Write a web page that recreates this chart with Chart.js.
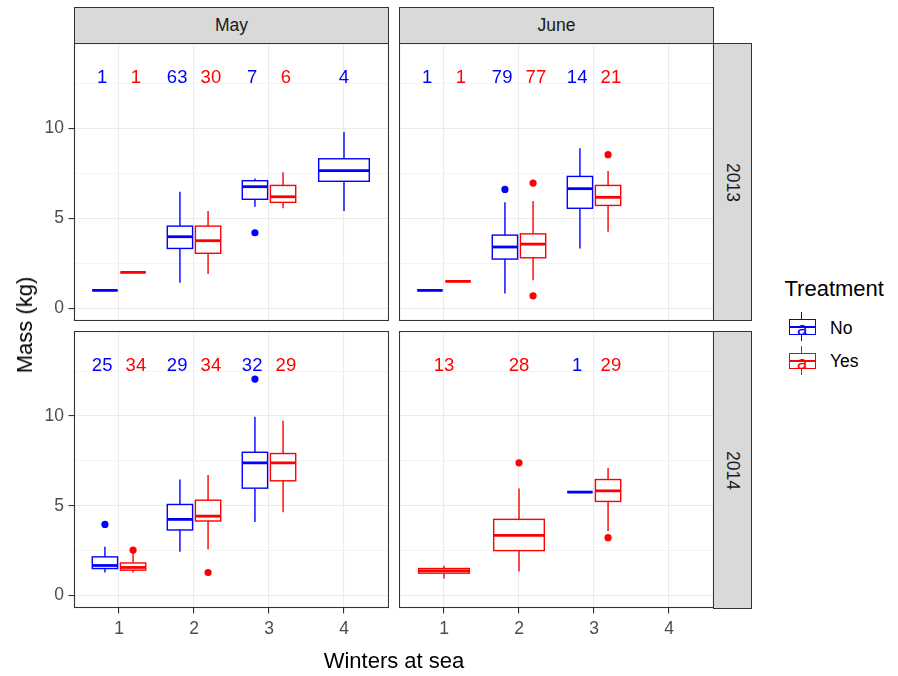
<!DOCTYPE html>
<html>
<head>
<meta charset="utf-8">
<script src="https://cdn.jsdelivr.net/npm/chart.js@4.4.0/dist/chart.umd.min.js"></script>
<style>
body{margin:0;background:#fff;font-family:"Liberation Sans",Arial,sans-serif}
#wrap{position:relative;width:898px;height:676px;overflow:hidden}
canvas{position:absolute}
.strip{position:absolute;background:#d9d9d9;border:1px solid #333;box-sizing:border-box;color:#1a1a1a;font-size:17.5px;display:flex;align-items:center;justify-content:center}
.vert{writing-mode:vertical-rl}
.txt{position:absolute;white-space:nowrap;line-height:1}
.key{position:absolute;width:27px;height:29px}
.key .wh{position:absolute;left:12.3px;width:1.4px;top:0;height:29px}
.key .bx{position:absolute;left:0;top:7px;width:27px;height:16px;border:1.4px solid;box-sizing:border-box;background:#fff}
.key .md{position:absolute;left:0;width:27px;top:14px;height:2.6px}
.key .a{position:absolute;left:8.5px;top:8px;font-size:18.5px;line-height:1}
</style>
</head>
<body>
<div id="wrap">
  <div class="strip" style="left:74px;top:7px;width:315px;height:37px">May</div>
  <div class="strip" style="left:399px;top:7px;width:315px;height:37px">June</div>
  <div class="strip vert" style="left:713px;top:43px;width:39px;height:278px">2013</div>
  <div class="strip vert" style="left:713px;top:331px;width:39px;height:278px">2014</div>

  <canvas id="p1" width="389" height="278" style="left:0;top:43px"></canvas>
  <canvas id="p2" width="315" height="278" style="left:399px;top:43px"></canvas>
  <canvas id="p3" width="389" height="320" style="left:0;top:331px"></canvas>
  <canvas id="p4" width="315" height="320" style="left:399px;top:331px"></canvas>

  <div class="txt" style="left:394px;top:650px;font-size:22px;transform:translateX(-50%)">Winters at sea</div>
  <div class="txt" style="left:25px;top:325px;font-size:22px;transform:translate(-50%,-50%) rotate(-90deg)">Mass (kg)</div>

  <div class="txt" style="left:784.5px;top:278px;font-size:22px">Treatment</div>
  <div class="key" style="left:788.5px;top:311.5px">
    <div class="wh" style="background:#0000ff"></div>
    <div class="bx" style="border-color:#0000ff"></div>
    <div class="md" style="background:#0000ff"></div>
    <div class="a" style="color:#0000ff">a</div>
  </div>
  <div class="txt" style="left:830px;top:319.5px;font-size:17.5px">No</div>
  <div class="key" style="left:788.5px;top:345.5px">
    <div class="wh" style="background:#ff0000"></div>
    <div class="bx" style="border-color:#ff0000"></div>
    <div class="md" style="background:#ff0000"></div>
    <div class="a" style="color:#ff0000">a</div>
  </div>
  <div class="txt" style="left:830px;top:352.5px;font-size:17.5px">Yes</div>
</div>

<script>
Chart.defaults.font.family = '"Liberation Sans", Arial, sans-serif'

const winters = [1, 2, 3, 4]
const xTickLabels = ['1', '2', '3', '4']
const yMajor = [0, 5, 10]
const yMinor = [2.5, 7.5, 12.5]
const yTickLabels = ['0', '5', '10']
const treatments = ['No', 'Yes']
const colours = ['#0000ff', '#ff0000']

// box stats per winter: [whisker low, q1, median, q3, whisker high], null = no fish
const may13No = [[1, 1, 1, 1, 1], [1.42, 3.33, 3.98, 4.57, 6.48], [5.65, 6.06, 6.76, 7.09, 7.22], [5.41, 7.06, 7.65, 8.31, 9.8]]
const may13Yes = [[2, 2, 2, 2, 2], [1.91, 3.06, 3.76, 4.57, 5.41], [5.56, 5.89, 6.2, 6.83, 7.56], null]
const may13NoOut = [[], [], [4.2], []]
const may13YesOut = [[], [], [], []]
const may13NoN = [1, 63, 7, 4]
const may13YesN = [1, 30, 6, null]

const jun13No = [[1, 1, 1, 1, 1], [0.83, 2.74, 3.41, 4.07, 5.89], [3.33, 5.56, 6.65, 7.33, 8.89], null]
const jun13Yes = [[1.5, 1.5, 1.5, 1.5, 1.5], [1.57, 2.81, 3.57, 4.14, 5.96], [4.26, 5.72, 6.17, 6.83, 7.63], null]
const jun13NoOut = [[], [6.61], [], []]
const jun13YesOut = [[], [6.96, 0.7], [8.54], []]
const jun13NoN = [1, 79, 14, null]
const jun13YesN = [1, 77, 21, null]

const may14No = [[1.28, 1.5, 1.67, 2.15, 2.72], [2.43, 3.65, 4.24, 5.07, 6.46], [4.09, 5.98, 7.39, 7.98, 9.96], null]
const may14Yes = [[1.28, 1.41, 1.56, 1.81, 2.35], [2.57, 4.15, 4.42, 5.31, 6.72], [4.64, 6.39, 7.39, 7.91, 9.74], null]
const may14NoOut = [[3.96], [], [12.06], []]
const may14YesOut = [[2.53], [1.28], [], []]
const may14NoN = [25, 29, 32, null]
const may14YesN = [34, 34, 29, null]

const jun14No = [null, null, [5.76, 5.76, 5.76, 5.76, 5.76], null]
const jun14Yes = [[0.94, 1.24, 1.37, 1.5, 1.65], [1.33, 2.5, 3.35, 4.24, 5.96], [3.59, 5.24, 5.83, 6.46, 7.11], null]
const jun14NoOut = [[], [], [], []]
const jun14YesOut = [[], [7.39], [3.22], []]
const jun14NoN = [null, null, 1, null]
const jun14YesN = [13, 28, 29, null]

const countY = 12.5

// dodge offset: two groups share the slot, a lone group takes it all
function centre(pair, g, i, off) {
    const both = pair[0][i] != null && pair[1][i] != null
    return winters[i] + (both ? (g ? off : -off) : 0)
}

function drawBox(ctx, x, y, cx, w, s, colour) {
    const l = x.getPixelForValue(cx - w / 2)
    const r = x.getPixelForValue(cx + w / 2)
    const c = x.getPixelForValue(cx)
    const [lo, q1, md, q3, hi] = s.map(v => y.getPixelForValue(v))
    ctx.strokeStyle = colour
    ctx.lineWidth = 1.4
    ctx.beginPath()
    ctx.moveTo(c, q3); ctx.lineTo(c, hi)
    ctx.moveTo(c, q1); ctx.lineTo(c, lo)
    ctx.stroke()
    ctx.fillStyle = '#ffffff'
    ctx.fillRect(l, q3, r - l, q1 - q3)
    ctx.strokeRect(l, q3, r - l, q1 - q3)
    ctx.lineWidth = 2.8
    ctx.beginPath()
    ctx.moveTo(l, md); ctx.lineTo(r, md)
    ctx.stroke()
}

function makePanel(id, boxes, outliers, counts, showX, showY) {
    const ctx = document.getElementById(id).getContext('2d')

    const datasets = treatments.map((t, g) => ({
        label: t,
        data: outliers[g].flatMap((vals, i) => vals.map(v => ({ x: centre(boxes, g, i, 0.1875), y: v }))),
        backgroundColor: colours[g],
        borderWidth: 0,
        pointRadius: 3.6,
        pointHoverRadius: 3.6
    }))

    const boxPlugin = {
        id: 'boxes',
        beforeDatasetsDraw(chart) {
            const { ctx, scales: { x, y } } = chart
            ctx.save()
            boxes.forEach((set, g) => {
                set.forEach((s, i) => {
                    if (!s) return
                    const both = boxes[0][i] != null && boxes[1][i] != null
                    drawBox(ctx, x, y, centre(boxes, g, i, 0.1875), both ? 0.3375 : 0.675, s, colours[g])
                })
            })
            ctx.restore()
        },
        afterDraw(chart) {
            const { ctx, chartArea: a, scales: { x, y } } = chart
            ctx.save()
            ctx.font = '18.5px "Liberation Sans", Arial, sans-serif'
            ctx.textAlign = 'center'
            ctx.textBaseline = 'alphabetic'
            counts.forEach((set, g) => {
                set.forEach((n, i) => {
                    if (n == null) return
                    ctx.fillStyle = colours[g]
                    ctx.fillText(String(n), x.getPixelForValue(centre(counts, g, i, 0.225)), y.getPixelForValue(countY))
                })
            })
            ctx.strokeStyle = '#333333'
            ctx.lineWidth = 1.1
            ctx.strokeRect(a.left + 0.5, a.top + 0.5, a.right - a.left - 1, a.bottom - a.top - 1)
            ctx.restore()
        }
    }

    return new Chart(ctx, {
        type: 'scatter',
        data: { datasets },
        options: {
            responsive: false,
            animation: false,
            devicePixelRatio: 1,
            events: [],
            layout: { padding: 0, autoPadding: false },
            plugins: { legend: { display: false }, tooltip: { enabled: false } },
            scales: {
                x: {
                    type: 'linear',
                    min: 0.4,
                    max: 4.6,
                    afterBuildTicks: s => { s.ticks = winters.map(v => ({ value: v })) },
                    afterFit: s => {
                        s.height = showX ? 43 : 0
                        s.paddingLeft = 0; s.paddingRight = 0
                    },
                    border: { display: false },
                    grid: {
                        color: '#ebebeb',
                        lineWidth: 1.1,
                        drawTicks: showX,
                        tickLength: 5.5,
                        tickColor: '#333333',
                        tickWidth: 1.1
                    },
                    ticks: {
                        display: showX,
                        padding: 5,
                        color: '#4d4d4d',
                        font: { size: 17.5 },
                        maxRotation: 0,
                        autoSkip: false,
                        callback: (v, i) => xTickLabels[i]
                    }
                },
                y: {
                    type: 'linear',
                    min: -0.7,
                    max: 14.74,
                    afterBuildTicks: s => {
                        s.ticks = yMajor.concat(yMinor).sort((a, b) => a - b).map(v => ({ value: v }))
                    },
                    afterFit: s => {
                        s.width = showY ? 74 : 0
                        s.paddingTop = 0; s.paddingBottom = 0
                    },
                    border: { display: false },
                    grid: {
                        color: c => (c.tick && yMajor.includes(c.tick.value)) ? '#ebebeb' : '#f1f1f1',
                        lineWidth: c => (c.tick && yMajor.includes(c.tick.value)) ? 1.1 : 0.8,
                        drawTicks: showY,
                        tickLength: 5.5,
                        tickColor: c => (c.tick && yMajor.includes(c.tick.value)) ? '#333333' : 'rgba(0,0,0,0)',
                        tickWidth: 1.1
                    },
                    ticks: {
                        display: showY,
                        padding: 4.5,
                        color: '#4d4d4d',
                        font: { size: 17.5 },
                        autoSkip: false,
                        callback: v => {
                            const k = yMajor.indexOf(v)
                            return k >= 0 ? yTickLabels[k] : ''
                        }
                    }
                }
            }
        },
        plugins: [boxPlugin]
    })
}

makePanel('p1', [may13No, may13Yes], [may13NoOut, may13YesOut], [may13NoN, may13YesN], false, true)
makePanel('p2', [jun13No, jun13Yes], [jun13NoOut, jun13YesOut], [jun13NoN, jun13YesN], false, false)
makePanel('p3', [may14No, may14Yes], [may14NoOut, may14YesOut], [may14NoN, may14YesN], true, true)
makePanel('p4', [jun14No, jun14Yes], [jun14NoOut, jun14YesOut], [jun14NoN, jun14YesN], true, false)
</script>
</body>
</html>
